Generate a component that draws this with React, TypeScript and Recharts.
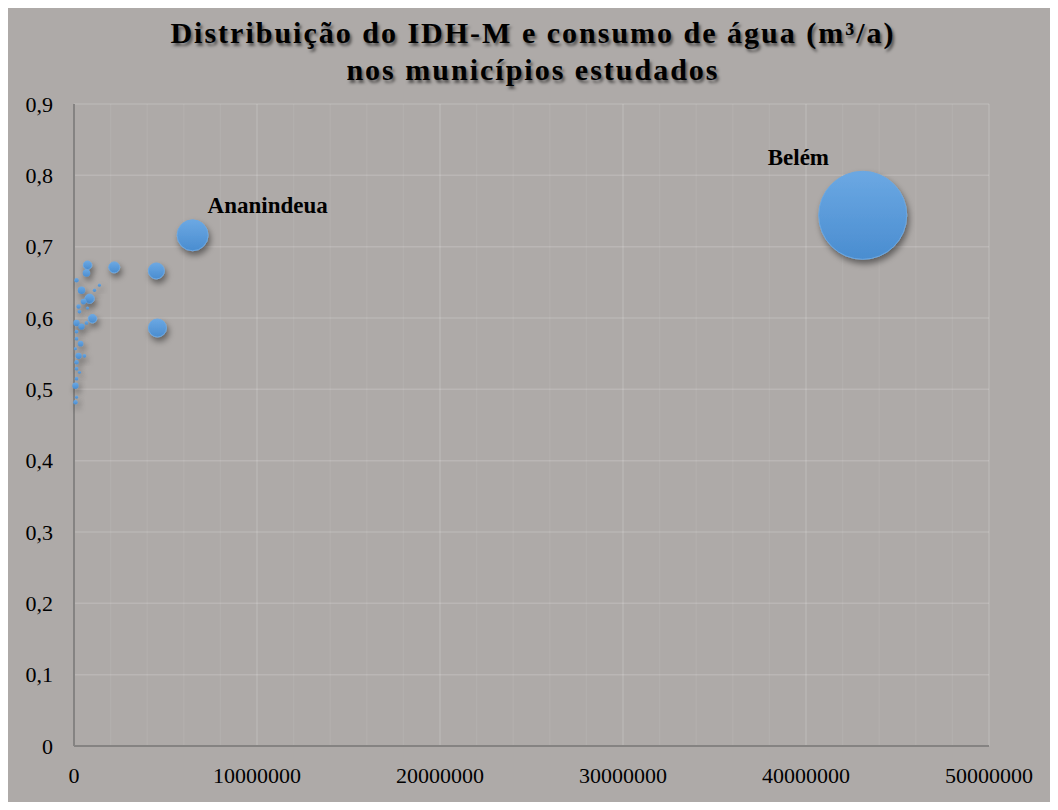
import React from 'react';
import { ScatterChart, Scatter, XAxis, YAxis, ZAxis, CartesianGrid, ReferenceLine } from 'recharts';

// municípios estudados: consumo de água (m³/a), IDH-M e tamanho da bolha
const municipios = [
  'Belém', 'Ananindeua', 'M3', 'M4', 'M5', 'M6', 'M7', 'M8', 'M9', 'M10', 'M11',
  'M12', 'M13', 'M14', 'M15', 'M16', 'M17', 'M18', 'M19', 'M20', 'M21', 'M22',
  'M23', 'M24', 'M25', 'M26', 'M27', 'M28', 'M29', 'M30', 'M31', 'M32', 'M33',
];
const consumo = [
  43100000, 6480000, 4500000, 4560000, 2200000, 740000, 680000, 140000, 410000, 1120000, 1390000,
  850000, 520000, 250000, 740000, 300000, 1010000, 140000, 410000, 680000, 140000, 140000,
  360000, 80000, 250000, 570000, 140000, 140000, 300000, 140000, 80000, 140000, 80000,
];
const idhm = [
  0.744, 0.716, 0.666, 0.586, 0.671, 0.674, 0.663, 0.653, 0.639, 0.639, 0.646,
  0.627, 0.623, 0.616, 0.614, 0.609, 0.599, 0.593, 0.588, 0.593, 0.581, 0.571,
  0.564, 0.557, 0.547, 0.547, 0.538, 0.529, 0.524, 0.515, 0.505, 0.489, 0.482,
];
const tamanho = [
  1936, 240, 64, 81, 30, 18, 14, 5, 14, 3, 2.5,
  22, 8, 5, 2.5, 3.5, 18, 10, 10, 3.5, 3.5, 3.5,
  8, 2.5, 10, 3.5, 5, 3.5, 2.5, 3.5, 10, 2.5, 5,
];

const xTicks = [0, 10000000, 20000000, 30000000, 40000000, 50000000];
const xMinorTicks = [
  2000000, 4000000, 6000000, 8000000, 12000000, 14000000, 16000000, 18000000,
  22000000, 24000000, 26000000, 28000000, 32000000, 34000000, 36000000, 38000000,
  42000000, 44000000, 46000000, 48000000,
];
const yTicks = [0, 0.1, 0.2, 0.3, 0.4, 0.5, 0.6, 0.7, 0.8, 0.9];

// só estes têm rótulo
const rotulos = {
  'Belém': { dx: -95, dy: -56 },
  'Ananindeua': { dx: 15, dy: -28 },
};

const data = municipios.map((nome, i) => ({ nome, x: consumo[i], y: idhm[i], z: tamanho[i] }));

const serif = '"Liberation Serif", "Times New Roman", serif';

const Bolha = (props) => {
  const { cx, cy, width, payload } = props;
  const r = width / 2;
  const rot = rotulos[payload.nome];
  return (
    <g>
      <circle
        cx={cx}
        cy={cy}
        r={r}
        fill="url(#bolhaGrad)"
        stroke="#6aa7e2"
        strokeWidth={r > 4 ? 1 : 0}
        filter="url(#bolhaSombra)"
      />
      {rot && (
        <text
          x={cx + rot.dx}
          y={cy + rot.dy}
          fontFamily={serif}
          fontWeight="bold"
          fontSize={23}
          fill="#000"
          dominantBaseline="middle"
        >
          {payload.nome}
        </text>
      )}
    </g>
  );
};

const fmtY = (v) => (v === 0 ? '0' : v.toFixed(1).replace('.', ','));

export default function App() {
  return (
    <div
      style={{
        position: 'relative',
        width: 1050,
        height: 802,
        marginBottom: -8,
        background: '#aeaaa8',
      }}
    >
      <svg width="0" height="0" style={{ position: 'absolute' }}>
        <defs>
          <linearGradient id="bolhaGrad" x1="0" y1="0" x2="0" y2="1">
            <stop offset="0%" stopColor="#6ba8e3" />
            <stop offset="100%" stopColor="#4a8dd0" />
          </linearGradient>
          <filter id="bolhaSombra" x="-200%" y="-200%" width="500%" height="500%">
            <feDropShadow dx="2" dy="4" stdDeviation="3" floodColor="#000" floodOpacity="0.45" />
          </filter>
        </defs>
      </svg>
      <div
        style={{
          position: 'absolute',
          top: 6,
          left: 0,
          width: '100%',
          textAlign: 'center',
          fontFamily: serif,
          fontWeight: 'bold',
          fontSize: 30,
          lineHeight: '37px',
          letterSpacing: 2,
          color: '#000',
          textShadow: '2px 3px 3px rgba(0,0,0,0.5)',
        }}
      >
        Distribuição do IDH-M e consumo de água (m³/a)
        <br />
        nos municípios estudados
      </div>
      <ScatterChart width={1050} height={802} margin={{ top: 96, right: 69, bottom: 24, left: 0 }}>
        <CartesianGrid stroke="rgba(255,255,255,0.15)" strokeWidth={1.5} />
        {xMinorTicks.map((t) => (
          <ReferenceLine key={t} x={t} stroke="rgba(255,255,255,0.06)" strokeWidth={1.5} />
        ))}
        <XAxis
          type="number"
          dataKey="x"
          domain={[0, 50000000]}
          ticks={xTicks}
          tickLine={false}
          tickMargin={15}
          height={40}
          axisLine={{ stroke: '#858382', strokeWidth: 2 }}
          tick={{ fill: '#000', fontFamily: serif, fontSize: 22 }}
        />
        <YAxis
          type="number"
          dataKey="y"
          domain={[0, 0.9]}
          ticks={yTicks}
          tickFormatter={fmtY}
          tickLine={false}
          tickMargin={15}
          width={66}
          axisLine={{ stroke: '#858382', strokeWidth: 2 }}
          tick={{ fill: '#000', fontFamily: serif, fontSize: 22 }}
        />
        <ZAxis type="number" dataKey="z" domain={[0, Math.max(...tamanho)]} range={[0, Math.PI * 44 * 44]} />
        <Scatter data={data} shape={Bolha} isAnimationActive={false} />
      </ScatterChart>
    </div>
  );
}
